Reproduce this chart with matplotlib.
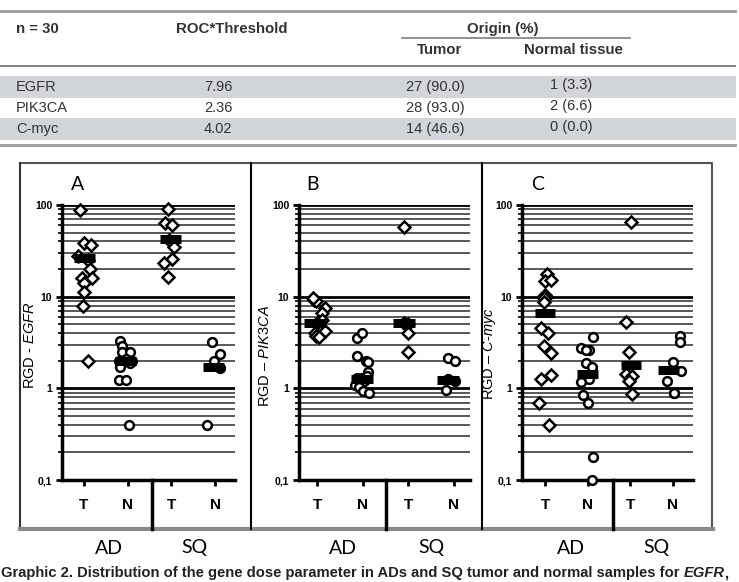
import matplotlib
matplotlib.use("Agg")
import matplotlib.pyplot as plt
import numpy as np
from matplotlib.ticker import LogLocator, FixedLocator, NullFormatter
from matplotlib.patches import Rectangle

plt.rcParams['font.family'] = ['Liberation Sans', 'DejaVu Sans']
plt.rcParams['mathtext.fontset'] = 'custom'
plt.rcParams['mathtext.it'] = 'Liberation Sans:italic'
plt.rcParams['mathtext.rm'] = 'Liberation Sans'

W, H = 739, 582

# ---- table data
genes = ['EGFR', 'PIK3CA', 'C-myc']
thresholds = ['7.96', '2.36', '4.02']
tumor_n = [27, 28, 14]
tumor_pct = ['90.0', '93.0', '46.6']
normal_n = [1, 2, 0]
normal_pct = ['3.3', '6.6', '0.0']

# ---- panel data (value, x jitter inside its column), columns: AD-T, AD-N, SQ-T, SQ-N
egfr_ad_t = [88, 38.6, 36.7, 28, 25, 20.1, 16.1, 16.1, 14.2, 11.3, 8.0, 2.0]
egfr_ad_t_dx = [-0.08, 0.0, 0.16, -0.14, 0.1, 0.15, -0.05, 0.18, 0.0, 0.0, -0.03, 0.1]
egfr_ad_n = [3.3, 2.93, 2.46, 2.5, 2.0, 2.0, 1.73, 1.9, 2.1, 1.22, 1.22, 0.40]
egfr_ad_n_dx = [-0.17, -0.13, -0.13, 0.06, -0.2, 0.1, -0.17, 0.06, -0.05, -0.2, -0.05, 0.04]
egfr_sq_t = [90.5, 63.7, 60.7, 42, 35, 25.9, 23.4, 16.5]
egfr_sq_t_dx = [-0.07, -0.14, 0.02, -0.05, 0.05, 0.02, -0.16, -0.07]
egfr_sq_n = [3.24, 2.34, 1.97, 1.65, 0.40]
egfr_sq_n_dx = [-0.08, 0.11, -0.04, 0.1, -0.19]
egfr_means = [26.5, 2.0, 42.7, 1.7]
egfr_means_dx = [0.01, -0.05, -0.02, -0.04]

pik_ad_t = [9.3, 9.0, 9.6, 7.6, 6.7, 5.5, 5.2, 4.06, 4.2, 3.7, 3.6]
pik_ad_t_dx = [-0.07, -0.02, -0.1, 0.18, 0.1, 0.1, 0.0, -0.04, 0.18, -0.02, 0.04]
pik_ad_n = [3.5, 4.06, 2.28, 1.97, 1.95, 1.5, 1.3, 1.3, 1.35, 1.1, 1.2, 1.04, 0.93, 0.88]
pik_ad_n_dx = [-0.13, -0.02, -0.13, 0.07, 0.12, 0.12, -0.13, -0.02, 0.1, -0.17, 0.03, -0.09, 0.0, 0.14]
pik_sq_t = [58, 5.2, 5.0, 4.06, 2.46]
pik_sq_t_dx = [-0.09, -0.1, 0.0, 0.0, 0.0]
pik_sq_n = [2.12, 1.97, 1.25, 1.2, 0.97]
pik_sq_n_dx = [-0.13, 0.03, -0.13, 0.03, -0.16]
pik_means = [5.2, 1.25, 5.1, 1.22]
pik_means_dx = [-0.04, -0.02, -0.09, -0.13]

myc_ad_t = [17.8, 15.0, 15.3, 10.5, 10.0, 9.7, 8.8, 4.5, 4.06, 2.93, 2.4, 1.39, 1.25, 0.70, 0.40]
myc_ad_t_dx = [0.05, 0.0, 0.15, 0.0, 0.03, -0.03, -0.03, -0.1, 0.08, -0.03, 0.15, 0.15, -0.1, -0.13, 0.1]
myc_ad_n = [3.6, 2.72, 2.65, 2.6, 1.87, 1.69, 1.25, 1.16, 0.84, 0.70, 0.18, 0.10]
myc_ad_n_dx = [0.13, -0.16, 0.03, -0.05, -0.03, 0.11, 0.03, -0.16, -0.1, 0.0, 0.13, 0.11]
myc_sq_t = [65, 5.35, 2.52, 1.42, 1.35, 1.19, 0.86]
myc_sq_t_dx = [0.02, -0.11, -0.04, -0.11, 0.05, -0.04, 0.05]
myc_sq_n = [3.77, 3.24, 1.92, 1.55, 1.19, 0.9, 0.88]
myc_sq_n_dx = [0.16, 0.16, 0.0, 0.18, -0.13, 0.02, 0.03]
myc_means = [6.7, 1.45, 1.8, 1.57]
myc_means_dx = [0.0, 0.0, 0.01, -0.1]

x_labels = ['T', 'N', 'T', 'N']
tick_vals = [0.1, 1, 10, 100]
tick_text = ['0,1', '1', '10', '100']

panels = [
    dict(letter='A', ylab=r'RGD - $\mathit{EGFR}$',
         cols=[(egfr_ad_t, egfr_ad_t_dx, 'D'), (egfr_ad_n, egfr_ad_n_dx, 'o'),
               (egfr_sq_t, egfr_sq_t_dx, 'D'), (egfr_sq_n, egfr_sq_n_dx, 'o')],
         means=egfr_means, means_dx=egfr_means_dx,
         box=(62, 235), xlim=(0.5, 4.45), div=2.56, ylab_xy=(-0.145, 0.49),
         letter_x=78, ad_x=(109, 194)),
    dict(letter='B', ylab=r'RGD – $\mathit{PIK3CA}$',
         cols=[(pik_ad_t, pik_ad_t_dx, 'D'), (pik_ad_n, pik_ad_n_dx, 'o'),
               (pik_sq_t, pik_sq_t_dx, 'D'), (pik_sq_n, pik_sq_n_dx, 'o')],
         means=pik_means, means_dx=pik_means_dx,
         box=(299, 470), xlim=(0.6, 4.36), div=2.52, ylab_xy=(-0.158, 0.45),
         letter_x=313, ad_x=(343, 431)),
    dict(letter='C', ylab=r'RGD – $\mathit{C}$-$\mathit{myc}$',
         cols=[(myc_ad_t, myc_ad_t_dx, 'D'), (myc_ad_n, myc_ad_n_dx, 'o'),
               (myc_sq_t, myc_sq_t_dx, 'D'), (myc_sq_n, myc_sq_n_dx, 'o')],
         means=myc_means, means_dx=myc_means_dx,
         box=(522, 693), xlim=(0.46, 4.47), div=2.6, ylab_xy=(-0.14, 0.46),
         letter_x=538, ad_x=(571, 656)),
]

fig = plt.figure(figsize=(W / 100, H / 100), dpi=100)

# background layer in pixel coordinates
bg = fig.add_axes([0, 0, 1, 1])
bg.set_xlim(0, W)
bg.set_ylim(H, 0)
bg.axis('off')

# ---- table
txt = '#333333'
hfs = 10.8
bfs = 10.5
bg.plot([0, 735], [11, 11], color='#9a9a9a', lw=2)
bg.plot([0, 735], [66, 66], color='#777777', lw=1.3)
bg.plot([0, 735], [145, 145], color='#9a9a9a', lw=2)
bg.plot([402, 630], [38, 38], color='#888888', lw=1.3)
bg.text(16, 29, 'n = 30', fontsize=hfs, fontweight='bold', color=txt, va='center')
bg.text(232, 29, 'ROC*Threshold', fontsize=hfs, fontweight='bold', color=txt, va='center', ha='center')
bg.text(503, 29, 'Origin (%)', fontsize=hfs, fontweight='bold', color=txt, va='center', ha='center')
bg.text(440, 50, 'Tumor', fontsize=hfs, fontweight='bold', color=txt, va='center', ha='center')
bg.text(573, 50, 'Normal tissue', fontsize=hfs, fontweight='bold', color=txt, va='center', ha='center')
row_y = [87, 108, 129]
for i, g in enumerate(genes):
    if i % 2 == 0:
        bg.add_patch(Rectangle((0, row_y[i] - 11), 736, 21.5, color='#d2d5d9', lw=0))
    bg.text(16, row_y[i], g, fontsize=bfs, color=txt, va='center')
    bg.text(204, row_y[i], thresholds[i], fontsize=bfs, color=txt, va='center')
    bg.text(406, row_y[i], '%d (%s)' % (tumor_n[i], tumor_pct[i]), fontsize=bfs, color=txt, va='center')
    bg.text(550, row_y[i] - 2, '%d (%s)' % (normal_n[i], normal_pct[i]), fontsize=bfs, color=txt, va='center')

# ---- frame of the figure
bg.plot([20, 712, 712], [163, 163, 529], color='#555555', lw=1.5)
bg.plot([20, 20], [163, 529], color='#333333', lw=1.5)
bg.plot([20, 713], [529, 529], color='#8a8a8a', lw=3)
bg.plot([251, 251], [163, 529], color='black', lw=1.5)
bg.plot([482, 482], [163, 529], color='black', lw=1.5)

for p in panels:
    l, r = p['box']
    t, b = 205, 480
    ax = fig.add_axes([l / W, 1 - b / H, (r - l) / W, (b - t) / H])
    ax.set_yscale('log')
    ax.set_ylim(0.1, 100)
    ax.set_xlim(*p['xlim'])
    ax.patch.set_alpha(0)
    for s in ['top', 'right']:
        ax.spines[s].set_visible(False)
    ax.spines['left'].set_linewidth(2.5)
    ax.spines['bottom'].set_linewidth(2.5)

    ax.yaxis.set_major_locator(FixedLocator(tick_vals))
    ax.set_yticklabels(tick_text, fontsize=7.5, fontweight='bold')
    ax.yaxis.set_minor_locator(LogLocator(base=10, subs=np.arange(2, 10)))
    ax.yaxis.set_minor_formatter(NullFormatter())
    ax.tick_params(axis='y', which='major', length=4, width=2, pad=3)
    ax.tick_params(axis='y', which='minor', length=3, width=1.2)
    ax.grid(True, which='major', axis='y', color='black', lw=2)
    ax.grid(True, which='minor', axis='y', color='#3c3c3c', lw=1.2)
    ax.set_axisbelow(True)

    ax.set_xticks([1, 2, 3, 4])
    ax.set_xticklabels(x_labels, fontsize=11, fontweight='bold')
    ax.tick_params(axis='x', length=4, width=2, pad=9)

    for j, (vals, dx, mk) in enumerate(p['cols']):
        xs = [j + 1 + d for d in dx]
        ax.plot(xs, vals, linestyle='none', marker=mk, ms=6.3 if mk == 'o' else 6,
                mfc='white', mec='black', mew=1.8, zorder=3, clip_on=False)
    for j, m in enumerate(p['means']):
        xc = j + 1 + p['means_dx'][j]
        ax.plot([xc - 0.24, xc + 0.24], [m, m], color='black', lw=6.5,
                solid_capstyle='butt', zorder=4)

    ax.set_ylabel(p['ylab'], fontsize=10.5)
    ax.yaxis.set_label_coords(*p['ylab_xy'])

    # AD / SQ divider below the axis
    xd = l + (p['div'] - p['xlim'][0]) / (p['xlim'][1] - p['xlim'][0]) * (r - l)
    bg.plot([xd, xd], [480, 529], color='black', lw=2.5)

    bg.text(p['letter_x'], 185, p['letter'], fontsize=14, family='Lato', ha='center', va='center')
    bg.text(p['ad_x'][0], 548, 'AD', fontsize=14, family='Lato', ha='center', va='center')
    bg.text(p['ad_x'][1], 548, 'SQ', fontsize=14, family='Lato', ha='center', va='center')

# ---- caption
cfs = 10.6
cap = bg.text(1, 573, 'Graphic 2. Distribution of the gene dose parameter in ADs and SQ tumor and normal samples for ',
              fontsize=cfs, fontweight='bold', color='#222222', va='center')
fig.canvas.draw()
x1 = cap.get_window_extent().x1
cap2 = bg.text(x1, 573, 'EGFR', fontsize=cfs, fontweight='bold', style='italic', color='#222222',
               va='center')
fig.canvas.draw()
x2 = cap2.get_window_extent().x1
bg.text(x2 - 1, 573, ',', fontsize=cfs, fontweight='bold', color='#222222', va='center')

fig.savefig('out.png', dpi=100)
